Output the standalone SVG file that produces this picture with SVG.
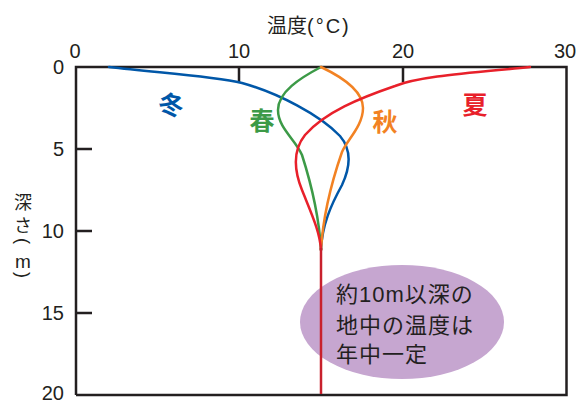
<svg xmlns="http://www.w3.org/2000/svg" width="582" height="401" viewBox="0 0 582 401">
<style>
.ax{fill:none;stroke:#231f20;stroke-width:2.5}
.num{font-family:"Liberation Sans","Noto Sans CJK JP",sans-serif;font-size:20px;fill:#231f20}
.jp{font-family:"Noto Sans CJK JP",sans-serif;fill:#231f20}
.crv{fill:none;stroke-width:2.5;stroke-linecap:round}
.lab{font-family:"Noto Sans CJK JP",sans-serif;font-size:25px;font-weight:bold;text-anchor:middle}
</style>
<rect width="582" height="401" fill="#ffffff"/>
<g id="axes">
<path class="ax" d="M76,395 V67 H566.5 V395 H76"/>
<path class="ax" d="M239,67 V82 M403,67 V82 M76,149 H92 M76,231 H92 M76,313 H92"/>
</g>
<g id="xlabels" class="num" text-anchor="middle">
<text x="75" y="58">0</text>
<text x="239" y="58">10</text>
<text x="403" y="58">20</text>
<text x="565" y="58">30</text>
</g>
<g id="ylabels" class="num" text-anchor="end">
<text x="64" y="74">0</text>
<text x="64" y="156">5</text>
<text x="64" y="238">10</text>
<text x="64" y="320">15</text>
<text x="64" y="400">20</text>
</g>
<g id="xtitle"><text class="jp" x="267" y="33" font-size="20">温度<tspan font-family="Liberation Sans" letter-spacing="2">(°C)</tspan></text></g>
<g id="ytitle" class="jp" font-size="18" text-anchor="middle">
<text x="23" y="209">深</text>
<text x="23" y="232">さ</text>
<text transform="translate(23,241) rotate(90)" y="6" font-family="Liberation Sans" text-anchor="middle">(</text>
<text x="23" y="268" font-family="Liberation Sans" font-size="19">m</text>
<text transform="translate(23,275) rotate(90)" y="6" font-family="Liberation Sans" text-anchor="middle">)</text>
</g>
<g id="note">
<ellipse cx="402" cy="322" rx="102" ry="57" fill="#c6a6d0"/>
</g>
<g id="connectors">
<path class="crv" stroke="#0057a8" d="M109,67 C160,73 212,76 242,83 C278,93 320,115 340,136 C352,150 350,168 342,185 C331,205 322,225 321,250"/>
<path class="crv" stroke="#3c9a47" d="M321,67 C300,78 278,92 278,110 C278,128 296,140 302,155 C310,180 319,215 321,250"/>
<path class="crv" stroke="#f28223" d="M321,67 C340,76 363,90 363,108 C363,126 347,140 342,152 C333,178 323,215 321,250"/>
<path class="crv" stroke="#e8202a" d="M530,67 C470,73 420,76 395,86 C360,98 325,112 305,135 C293,150 294,170 302,190 C312,215 320,232 321,250"/>
<path fill="none" stroke="#c8202c" stroke-width="2.5" d="M321,248 V394"/>
</g>
<g id="labels">
<text class="lab" x="171" y="114" fill="#0057a8" transform="rotate(12 171 105)">冬</text>
<text class="lab" x="262" y="130" fill="#3c9a47">春</text>
<text class="lab" x="385" y="131" fill="#f28223">秋</text>
<text class="lab" x="475" y="114" fill="#e8202a">夏</text>
</g>
<g id="notetext" class="jp" font-size="22" letter-spacing="1">
<text x="336" y="302"><tspan>約</tspan><tspan font-family="Liberation Sans">10m</tspan><tspan>以深の</tspan></text>
<text x="336" y="333">地中の温度は</text>
<text x="336" y="362">年中一定</text>
</g>
</svg>
